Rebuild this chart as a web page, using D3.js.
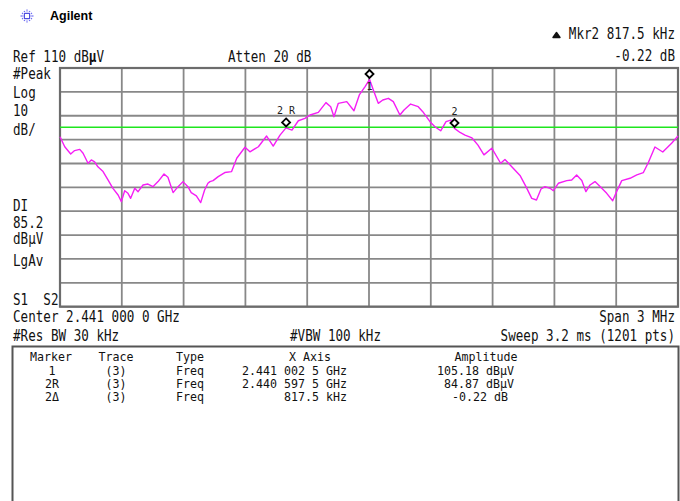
<!DOCTYPE html>
<html>
<head>
<meta charset="utf-8">
<script src="https://cdn.jsdelivr.net/npm/d3@7"></script>
<style>
  html, body { margin: 0; padding: 0; background: #fff; }
  svg { display: block; }
  .mono { font-family: "DejaVu Sans Mono", monospace; fill: #111; white-space: pre; }
</style>
</head>
<body>
<div id="root"></div>
<script>
// trace 3, offset from center in kHz and level in dBuV
const traceKHz = [-1500, -1477, -1448, -1429, -1404, -1388, -1364, -1348, -1332, -1316,
  -1291, -1267, -1243, -1218, -1202, -1186, -1170, -1157, -1137, -1121,
  -1097, -1073, -1049, -1024, -995, -976, -951, -927, -903, -879,
  -863, -838, -817, -798, -782, -772, -757, -732, -700, -667,
  -642, -602, -578, -537, -497, -465, -432, -403, -374, -343,
  -311, -286, -246, -209, -186, -170, -149, -108, -73, -47,
  -19, 3, 21, 45, 67, 94, 118, 150, 170, 202,
  239, 261, 296, 320, 348, 374, 397, 415, 442, 466,
  500, 529, 558, 596, 639, 660, 700, 733, 762, 790,
  813, 835, 854, 879, 895, 919, 960, 984, 1008, 1033,
  1053, 1073, 1097, 1130, 1154, 1183, 1202, 1227, 1267, 1300,
  1332, 1356, 1388, 1426, 1469, 1500]
const traceDB = [81.2, 77.0, 74.0, 75.4, 75.9, 74.3, 70.1, 71.5, 70.7, 68.6,
  66.6, 63.1, 59.6, 56.8, 54.0, 58.6, 57.5, 55.4, 59.6, 58.2,
  61.0, 61.4, 60.3, 62.4, 65.6, 64.2, 57.8, 60.3, 62.4, 60.3,
  57.8, 56.4, 53.6, 58.9, 61.7, 62.4, 62.8, 64.5, 66.2, 66.6,
  72.2, 76.8, 74.9, 77.0, 81.5, 77.3, 81.9, 84.9, 84.0, 87.9,
  88.9, 90.3, 91.4, 95.5, 93.8, 89.6, 95.2, 95.9, 92.1, 98.7,
  102.2, 105.2, 100.8, 95.2, 96.6, 97.3, 95.9, 90.3, 92.4, 94.9,
  93.8, 91.7, 87.5, 85.4, 83.7, 87.5, 88.2, 84.7, 83.0, 81.9,
  80.7, 77.7, 73.6, 76.4, 70.1, 71.7, 68.0, 65.0, 60.3, 55.4,
  54.7, 59.3, 60.3, 59.6, 58.6, 61.7, 62.8, 63.1, 65.2, 62.9,
  58.2, 61.0, 62.4, 59.6, 57.5, 54.4, 58.2, 62.8, 63.8, 65.2,
  66.2, 70.4, 76.9, 74.8, 78.5, 81.5]

const markerNames = ['1', '2R', '2']
const markerKHz = [2.5, -402.5, 415]
const markerDB = [105.18, 84.87, 84.65]

const displayLine = 85.2
const refLevel = 110

const leftLabels = ['#Peak', 'Log', '10', 'dB/', 'DI', '85.2', 'dBμV', 'LgAv', 'S1  S2']

const tableHeader = ['Marker', 'Trace', 'Type', 'X Axis', 'Amplitude']
const tableMarker = ['1', '2R', '2Δ']
const tableTrace = ['(3)', '(3)', '(3)']
const tableType = ['Freq', 'Freq', 'Freq']
const tableXAxis = ['2.441 002 5 GHz', '2.440 597 5 GHz', '817.5 kHz']
const tableAmp = ['105.18 dBμV', '84.87 dBμV', '-0.22 dB']

const W = 680, H = 501
const grid = { left: 60, right: 678, top: 68, bottom: 306.7 }

const x = d3.scaleLinear().domain([-1500, 1500]).range([grid.left, grid.right])
const y = d3.scaleLinear().domain([refLevel - 100, refLevel]).range([grid.bottom, grid.top])

const svg = d3.select('#root').append('svg')
  .attr('width', W)
  .attr('height', H)

function label(str, px, py, opts = {}) {
  const size = opts.size || 15
  const sx = opts.sx || 0.84
  return svg.append('text')
    .attr('class', 'mono')
    .attr('transform', `translate(${px},${py}) scale(${sx},1)`)
    .attr('text-anchor', opts.anchor || 'start')
    .style('font-size', size + 'px')
    .text(str)
}

// logo
const logo = svg.append('g').attr('transform', 'translate(27,16)')
d3.range(0, 360, 30).forEach(a => {
  const r = a % 90 === 0 ? 7 : 5.8
  logo.append('line')
    .attr('x1', 0).attr('y1', 0)
    .attr('x2', r * Math.cos(a * Math.PI / 180))
    .attr('y2', r * Math.sin(a * Math.PI / 180))
    .attr('stroke', '#6f6ff2')
    .attr('stroke-width', 1.3)
    .attr('stroke-dasharray', '1.4 0.8')
})
logo.append('rect')
  .attr('x', -2.5).attr('y', -2.5).attr('width', 5).attr('height', 5)
  .attr('fill', '#fff').attr('stroke', '#5050e0').attr('stroke-width', 1)
svg.append('text')
  .attr('x', 50).attr('y', 20)
  .style('font-family', '"Liberation Sans", Arial, sans-serif')
  .style('font-weight', 'bold')
  .style('font-size', '12.5px')
  .text('Agilent')

// header texts
const ref = label('Ref 110 dB', 13, 61.5)
ref.append('tspan').style('font-weight', 'bold').text('μ')
ref.append('tspan').text('V')
label('Atten 20 dB', 228, 61.5)
label('Mkr2 817.5 kHz', 675, 38.5, { anchor: 'end' })
label('-0.22 dB', 675, 60.5, { anchor: 'end' })
svg.append('path')
  .attr('d', 'M556.5,32.5 L560,37.5 L553,37.5 Z')
  .attr('fill', '#111')
  .attr('stroke', '#111')
  .attr('stroke-width', 1.4)
  .attr('stroke-linejoin', 'round')

// left column
const leftY = [78.5, 97.5, 116, 135, 211, 227.5, 244, 266, 305]
leftLabels.forEach((t, i) => label(t, 13, leftY[i]))

// graticule
const gridG = svg.append('g')
gridG.selectAll('line.v')
  .data(d3.range(-1500, 1501, 300))
  .join('line')
    .attr('class', 'v')
    .attr('x1', d => x(d)).attr('x2', d => x(d))
    .attr('y1', grid.top).attr('y2', grid.bottom)
    .attr('stroke', '#888')
    .attr('stroke-width', 1.8)
gridG.selectAll('line.h')
  .data(d3.range(refLevel - 100, refLevel + 1, 10))
  .join('line')
    .attr('class', 'h')
    .attr('x1', grid.left).attr('x2', grid.right)
    .attr('y1', d => y(d)).attr('y2', d => y(d))
    .attr('stroke', '#888')
    .attr('stroke-width', 1.8)
gridG.append('rect')
  .attr('x', grid.left).attr('y', grid.top)
  .attr('width', grid.right - grid.left)
  .attr('height', grid.bottom - grid.top)
  .attr('fill', 'none')
  .attr('stroke', '#6c6c6c')
  .attr('stroke-width', 2.2)

// display line
svg.append('line')
  .attr('x1', grid.left).attr('x2', grid.right)
  .attr('y1', y(displayLine)).attr('y2', y(displayLine))
  .attr('stroke', '#1ee61e')
  .attr('stroke-width', 1.6)

// trace
const line = d3.line()
  .x(d => x(d[0]))
  .y(d => y(d[1]))
svg.append('path')
  .datum(traceKHz.map((f, i) => [f, traceDB[i]]))
  .attr('d', line)
  .attr('fill', 'none')
  .attr('stroke', '#f51ef5')
  .attr('stroke-width', 1.4)
  .attr('stroke-linejoin', 'round')

// markers
const mk = svg.selectAll('g.marker')
  .data(markerNames.map((n, i) => ({ name: n, f: markerKHz[i], a: markerDB[i] })))
  .join('g')
    .attr('class', 'marker')
    .attr('transform', d => `translate(${x(d.f)},${y(d.a) - 5.5})`)
mk.append('path')
  .attr('d', 'M0,-4 L4,0 L0,4 L-4,0 Z')
  .attr('fill', '#fff')
  .attr('stroke', '#000')
  .attr('stroke-width', 1.8)
mk.append('text')
  .attr('class', 'mono')
  .attr('text-anchor', 'middle')
  .attr('y', d => d.name === '1' ? 16 : -8)
  .style('font-size', '10px')
  .style('fill', '#222')
  .text(d => d.name === '2R' ? '2 R' : d.name)

// footer
label('Center 2.441 000 0 GHz', 13, 322)
label('Span 3 MHz', 675, 322, { anchor: 'end' })
label('#Res BW 30 kHz', 13, 341)
label('#VBW 100 kHz', 290, 341)
label('Sweep 3.2 ms (1201 pts)', 675, 341, { anchor: 'end' })

// marker table
svg.append('rect')
  .attr('x', 12.5).attr('y', 346.5)
  .attr('width', 666).attr('height', 170)
  .attr('fill', '#fff')
  .attr('stroke', '#555')
  .attr('stroke-width', 2)

const tOpt = { size: 12, sx: 0.97 }
const colX = [51, 116, 176, 310, 486]
label(tableHeader[0], colX[0], 360.5, { ...tOpt, anchor: 'middle' })
label(tableHeader[1], colX[1], 360.5, { ...tOpt, anchor: 'middle' })
label(tableHeader[2], colX[2], 360.5, tOpt)
label(tableHeader[3], colX[3], 360.5, { ...tOpt, anchor: 'middle' })
label(tableHeader[4], colX[4], 360.5, { ...tOpt, anchor: 'middle' })
const rowY = [374.5, 387.5, 400.5]
rowY.forEach((ry, i) => {
  label(tableMarker[i], 52, ry, { ...tOpt, anchor: 'middle' })
  label(tableTrace[i], 116, ry, { ...tOpt, anchor: 'middle' })
  label(tableType[i], 176, ry, tOpt)
  label(tableXAxis[i], 347, ry, { ...tOpt, anchor: 'end' })
  label(tableAmp[i], i === 2 ? 508 : 514, ry, { ...tOpt, anchor: 'end' })
})
</script>
</body>
</html>
